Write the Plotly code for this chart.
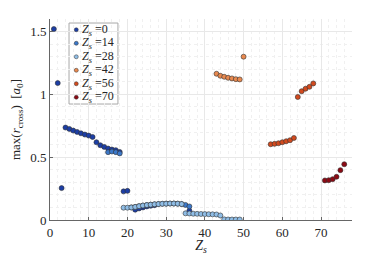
import plotly.graph_objects as go

# Series data: Z values and max(r_cross) values
z_s0 = [1, 2, 3, 4, 5, 6, 7, 8, 9, 10, 11, 12, 13, 14, 15, 16, 17, 18, 19, 20, 22, 23, 24, 25, 26, 27, 36]
v_s0 = [1.52, 1.09, 0.254, 0.736, 0.725, 0.712, 0.701, 0.690, 0.680, 0.672, 0.661, 0.619, 0.595,
        0.582, 0.569, 0.561, 0.556, 0.542, 0.228, 0.232, 0.082, 0.092, 0.100, 0.108, 0.113, 0.118, 0.074]

z_s14 = [15, 16, 17, 18, 21, 22, 23, 24, 25, 26, 27, 28, 29, 30, 31, 32, 33, 34, 35, 36]
v_s14 = [0.540, 0.545, 0.540, 0.530, 0.100, 0.104, 0.110, 0.115, 0.119, 0.122, 0.125, 0.127,
         0.129, 0.130, 0.131, 0.131, 0.130, 0.127, 0.120, 0.108]

z_s28 = [19, 20, 21, 22, 23, 24, 25, 26, 27, 28, 29, 30, 31, 32, 33, 34,
         35, 36, 37, 38, 39, 40, 41, 42, 43, 44, 45, 46, 47, 48, 49]
v_s28 = [0.098, 0.098, 0.100, 0.104, 0.110, 0.115, 0.119, 0.122, 0.125, 0.127, 0.129, 0.130,
         0.131, 0.131, 0.130, 0.127,
         0.053, 0.052, 0.050, 0.049, 0.048, 0.047, 0.046, 0.045, 0.044, 0.036,
         0.005, 0.004, 0.004, 0.004, 0.004]

z_s42 = [43, 44, 45, 46, 47, 48, 49, 50]
v_s42 = [1.164, 1.148, 1.140, 1.132, 1.127, 1.121, 1.119, 1.300]

z_s56 = [57, 58, 59, 60, 61, 62, 63, 64, 65, 66, 67, 68]
v_s56 = [0.603, 0.606, 0.611, 0.619, 0.627, 0.635, 0.653, 0.979, 1.025, 1.045, 1.060, 1.087]

z_s70 = [71, 72, 73, 74, 75, 76]
v_s70 = [0.315, 0.317, 0.325, 0.344, 0.397, 0.444]

labels = ["0", "14", "28", "42", "56", "70"]
colors = ["#1c3ea6", "#3b78c9", "#8fbde6", "#e8894f", "#d24a1e", "#8c0a14"]
series = [(z_s0, v_s0), (z_s14, v_s14), (z_s28, v_s28), (z_s42, v_s42), (z_s56, v_s56), (z_s70, v_s70)]

font_family = "Liberation Serif, 'Times New Roman', 'DejaVu Serif', serif"
txt_color = "#262626"

fig = go.Figure()
for (zx, vy), lab, col in zip(series, labels, colors):
    fig.add_trace(go.Scatter(
        x=zx, y=vy, mode="markers", showlegend=False,
        name="Zs=" + lab,
        marker=dict(size=5, color=col, line=dict(color="#333333", width=0.6)),
    ))

# Manual legend (compact, MATLAB-like)
leg_x0, leg_x1, leg_y0, leg_y1 = 0.063, 0.225, 0.577, 0.980
n = len(labels)
row_h = (leg_y1 - leg_y0) / n
leg_ys = [leg_y1 - row_h * (i + 0.5) for i in range(n)]
fig.add_shape(type="rect", xref="paper", yref="paper", x0=leg_x0, x1=leg_x1, y0=leg_y0, y1=leg_y1,
              line=dict(color="#a8a8a8", width=1), fillcolor="white", layer="between")
fig.add_trace(go.Scatter(
    x=[0.087] * n, y=leg_ys, xaxis="x2", yaxis="y2", mode="markers", showlegend=False,
    marker=dict(size=4, color=colors, line=dict(color="#333333", width=0.5)), hoverinfo="skip",
))
for lab, yy in zip(labels, leg_ys):
    fig.add_annotation(
        x=0.104, y=yy, xref="paper", yref="paper", xanchor="left", yanchor="middle", showarrow=False,
        text="<i>Z</i><sub><i>s</i></sub> =" + lab, font=dict(family=font_family, size=12, color=txt_color),
        borderpad=0,
    )

# The page body has an 8px margin, so the figure is sized and offset to compensate.
fig.update_layout(
    width=381, height=247,
    margin=dict(l=42, r=37, t=11, b=35),
    paper_bgcolor="white", plot_bgcolor="white",
    font=dict(family=font_family, size=13, color=txt_color),
    showlegend=False,
    xaxis=dict(
        range=[0, 78], tickvals=[0, 10, 20, 30, 40, 50, 60, 70], automargin=False,
        showline=True, linecolor="#666666", linewidth=1, mirror=False,
        ticks="inside", ticklen=3, tickcolor="#666666",
        showgrid=True, gridcolor="#e8e8e8", gridwidth=1, zeroline=False,
        tickfont=dict(family=font_family, size=13, color=txt_color),
        minor=dict(dtick=2, showgrid=True, gridcolor="#f0f0f0", griddash="dot"),
        title=dict(text="<i>Z</i><sub><i>s</i></sub>", standoff=2, font=dict(family=font_family, size=14)),
    ),
    yaxis=dict(
        range=[0, 1.6], tickvals=[0, 0.5, 1, 1.5], ticktext=["0", "0.5", "1", "1.5"], automargin=False,
        showline=True, linecolor="#666666", linewidth=1, mirror=False,
        ticks="inside", ticklen=3, tickcolor="#666666",
        showgrid=True, gridcolor="#e8e8e8", gridwidth=1, zeroline=False,
        tickfont=dict(family=font_family, size=13, color=txt_color),
        minor=dict(dtick=0.1, showgrid=True, gridcolor="#f0f0f0", griddash="dot"),
        title=dict(text="max(<i>r</i><sub>cross</sub>)  [<i>a</i><sub>0</sub>]", standoff=6,
                   font=dict(family=font_family, size=13)),
    ),
    xaxis2=dict(overlaying="x", range=[0, 1], visible=False, fixedrange=True),
    yaxis2=dict(overlaying="y", range=[0, 1], visible=False, fixedrange=True),
)

fig.write_html("out.html")
